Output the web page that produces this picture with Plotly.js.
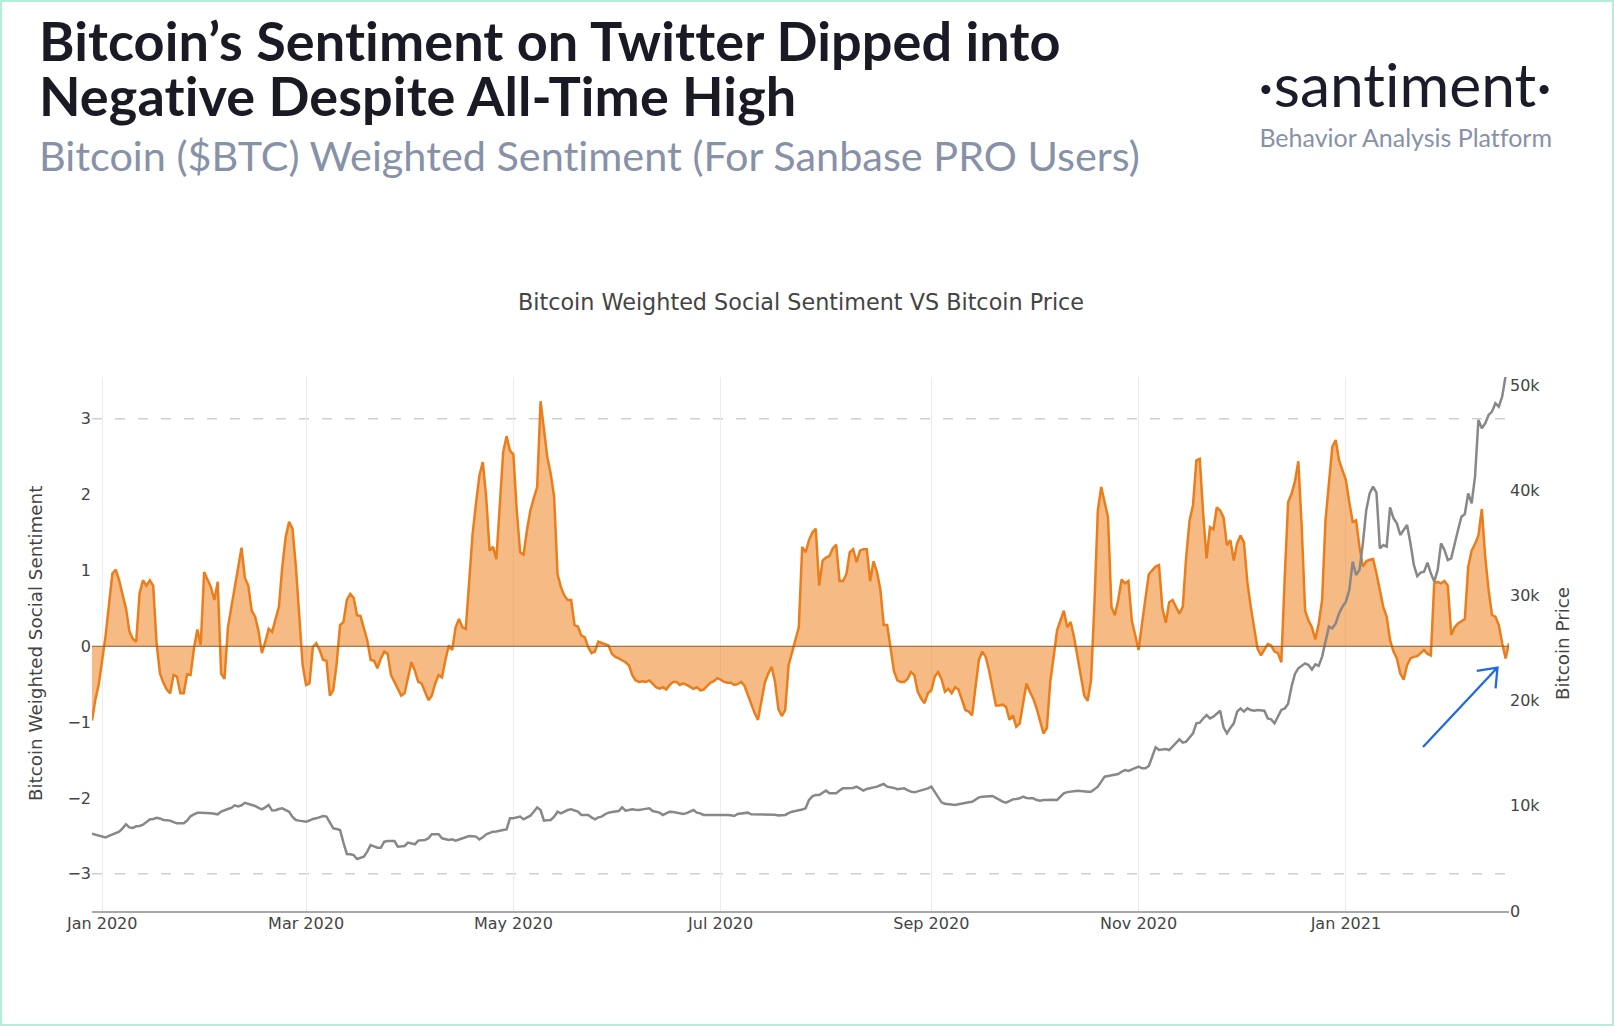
<!DOCTYPE html>
<html>
<head>
<meta charset="utf-8">
<script src="https://cdn.plot.ly/plotly-3.0.1.min.js"></script>
<style>
  html, body { margin: 0; padding: 0; background: #ffffff; }
  #wrap { position: relative; width: 1614px; height: 1026px; overflow: hidden; background: #fff; }
  #chart { position: absolute; left: 0; top: 0; width: 1614px; height: 1026px; }
  #head { position: absolute; left: 0; top: 0; pointer-events: none; font-variant-ligatures: none; font-feature-settings: "liga" 0, "clig" 0; }
  #maintitle { position: absolute; left: 39px; top: 12.6px; margin: 0; font-family: Lato, sans-serif; font-weight: 700;
               font-size: 54px; line-height: 55px; letter-spacing: 0.1px; color: #191a24; white-space: nowrap;
               font-variant-ligatures: none; font-feature-settings: "liga" 0, "clig" 0; }
  #frame { position: absolute; left: 0; top: 0; width: 1614px; height: 1026px; box-sizing: border-box;
           border: 2px solid #b3eedb; pointer-events: none; }
</style>
</head>
<body>
<div id="wrap">
  <div id="chart"></div>
  <div id="maintitle">Bitcoin’s Sentiment on Twitter Dipped into<br>Negative Despite All-Time High</div>
  <svg id="head" width="1614" height="200" xmlns="http://www.w3.org/2000/svg">
    <text x="39" y="171" font-family="Lato" font-weight="400" font-size="41.4" fill="#8791a8">Bitcoin ($BTC) Weighted Sentiment (For Sanbase PRO Users)</text>
    <text x="1552" y="107" text-anchor="end" font-family="Lato" font-weight="400" font-size="60.5" fill="#1b1c29">·santiment·</text>
    <text x="1552" y="147" text-anchor="end" font-family="Lato" font-weight="400" font-size="25" fill="#8791a8">Behavior Analysis Platform</text>
  </svg>
  <div id="frame"></div>
</div>
<script>
// ---------------- DATA ----------------
const startDate = '2019-12-29';   // first daily observation
const endDate = '2021-02-18';

// Bitcoin weighted social sentiment (daily, from 2019-12-29)
const sentiment = [
  -0.98,-0.70,-0.50,-0.20,0.14,0.55,0.96,1.01,0.87,0.68,
  0.50,0.20,0.10,0.06,0.70,0.87,0.80,0.87,0.80,0.04,
  -0.36,-0.48,-0.57,-0.62,-0.38,-0.40,-0.62,-0.62,-0.37,-0.38,
  -0.03,0.22,0.02,0.98,0.89,0.78,0.61,0.85,-0.36,-0.43,
  0.25,0.52,0.74,1.02,1.30,0.90,0.80,0.47,0.39,0.20,
  -0.09,0.06,0.23,0.19,0.34,0.52,1.05,1.44,1.64,1.55,
  1.05,0.43,-0.25,-0.51,-0.49,-0.01,0.04,-0.05,-0.18,-0.19,
  -0.65,-0.58,-0.23,0.28,0.32,0.61,0.69,0.64,0.41,0.40,
  0.23,0.08,-0.18,-0.19,-0.29,-0.16,-0.07,-0.10,-0.38,-0.47,
  -0.58,-0.65,-0.62,-0.40,-0.21,-0.32,-0.47,-0.49,-0.60,-0.71,
  -0.65,-0.49,-0.38,-0.41,-0.18,0.01,-0.05,0.25,0.36,0.25,
  0.23,0.91,1.48,1.88,2.25,2.43,1.97,1.26,1.31,1.15,
  1.84,2.56,2.77,2.58,2.53,1.79,1.24,1.21,1.53,1.79,
  1.95,2.10,3.23,2.89,2.49,2.27,1.97,0.95,0.78,0.67,
  0.61,0.61,0.28,0.26,0.14,0.12,-0.01,-0.09,-0.07,0.06,
  0.04,0.03,0.01,-0.10,-0.14,-0.16,-0.18,-0.21,-0.25,-0.38,
  -0.45,-0.47,-0.46,-0.47,-0.45,-0.49,-0.54,-0.56,-0.54,-0.57,
  -0.51,-0.47,-0.47,-0.51,-0.49,-0.51,-0.54,-0.56,-0.54,-0.58,
  -0.57,-0.52,-0.48,-0.46,-0.42,-0.44,-0.47,-0.48,-0.48,-0.51,
  -0.50,-0.47,-0.52,-0.64,-0.76,-0.88,-0.97,-0.70,-0.48,-0.36,
  -0.27,-0.47,-0.83,-0.92,-0.84,-0.25,-0.09,0.07,0.25,1.31,
  1.24,1.40,1.50,1.55,0.80,1.13,1.17,1.19,1.29,1.34,
  0.86,0.86,0.95,1.24,1.28,1.11,1.26,1.28,1.28,0.86,
  1.12,0.98,0.75,0.28,0.28,-0.02,-0.33,-0.45,-0.47,-0.47,
  -0.43,-0.34,-0.38,-0.60,-0.69,-0.75,-0.62,-0.58,-0.40,-0.34,
  -0.43,-0.60,-0.56,-0.62,-0.54,-0.57,-0.71,-0.84,-0.86,-0.91,
  -0.54,-0.18,-0.07,-0.14,-0.32,-0.54,-0.78,-0.78,-0.77,-0.80,
  -0.97,-0.91,-1.06,-1.02,-0.76,-0.49,-0.60,-0.69,-0.82,-1.00,
  -1.15,-1.08,-0.47,-0.14,0.21,0.34,0.47,0.25,0.32,0.12,
  -0.14,-0.38,-0.65,-0.72,-0.45,0.56,1.79,2.10,1.92,1.70,
  0.52,0.41,0.61,0.88,0.83,0.86,0.34,0.14,-0.05,0.30,
  0.62,0.95,1.00,1.05,1.07,0.50,0.31,0.58,0.61,0.51,
  0.43,0.52,1.18,1.66,1.86,2.45,2.47,1.75,1.16,1.57,
  1.54,1.83,1.79,1.70,1.33,1.40,1.13,1.36,1.46,1.37,
  0.85,0.52,0.23,-0.03,-0.12,-0.05,0.03,0.01,-0.07,-0.09,
  -0.21,0.91,1.90,2.01,2.17,2.44,1.57,0.47,0.34,0.25,
  0.09,0.30,0.61,1.66,2.19,2.63,2.72,2.45,2.32,2.19,
  1.90,1.64,1.66,1.31,1.05,1.12,1.14,1.15,0.96,0.72,
  0.52,0.39,0.08,-0.07,-0.16,-0.36,-0.44,-0.25,-0.16,-0.14,
  -0.13,-0.09,-0.05,-0.10,-0.12,0.83,0.85,0.83,0.86,0.80,
  0.15,0.25,0.30,0.33,0.36,1.05,1.26,1.35,1.46,1.81,
  1.18,0.74,0.41,0.39,0.28,0.04,-0.16,0.04
];

// Bitcoin price in USD (daily, from 2019-12-29)
const price = [
  7350,7280,7200,7100,7000,7150,7300,7400,7550,7860,
  8250,7950,7900,8050,8080,8200,8450,8700,8750,8850,
  8800,8650,8620,8590,8450,8330,8330,8350,8600,9000,
  9190,9330,9350,9350,9350,9300,9250,9190,9450,9600,
  9700,9800,10050,9950,10050,10280,10200,10100,9980,9800,
  9660,9850,10080,9550,9580,9700,9760,9600,9440,8950,
  8650,8590,8520,8490,8600,8750,8810,8900,9030,8970,
  8400,7860,7800,7700,6500,5420,5400,5320,4940,5050,
  5160,5640,6270,6150,6020,6020,6590,6650,6650,6650,
  6120,6150,6180,6500,6400,6340,6690,6690,6750,6910,
  7290,7290,7290,6910,6850,6750,6810,6690,6800,6910,
  7000,7130,7100,7070,6810,7000,7290,7400,7540,7560,
  7600,7700,7760,8810,8810,8900,8970,8710,8900,9060,
  9440,9850,9600,8590,8620,8650,8970,9440,9280,9450,
  9600,9660,9550,9440,9130,9130,9130,8900,8710,8900,
  8970,9200,9350,9400,9440,9500,9850,9540,9600,9660,
  9620,9600,9660,9700,9760,9500,9440,9350,9130,9300,
  9440,9400,9350,9300,9220,9300,9440,9600,9350,9280,
  9130,9130,9150,9170,9190,9170,9150,9130,9100,9030,
  9220,9250,9300,9350,9190,9190,9190,9190,9200,9200,
  9190,9150,9090,9100,9130,9300,9440,9500,9540,9650,
  9760,10550,10900,11030,11030,11250,11440,11190,11190,11190,
  11450,11660,11660,11660,11700,11820,11600,11440,11600,11660,
  11750,11820,11950,12070,11820,11780,11700,11570,11620,11660,
  11500,11350,11280,11380,11440,11520,11650,11820,11340,10800,
  10330,10200,10170,10100,10080,10150,10230,10280,10330,10390,
  10600,10800,10850,10870,10900,10930,10750,10550,10390,10300,
  10450,10610,10650,10710,10870,10750,10710,10710,10550,10490,
  10550,10580,10610,10580,10550,10900,11190,11300,11340,11400,
  11440,11400,11340,11340,11340,11550,11820,12300,12770,12830,
  12880,12950,13020,13240,13400,13310,13450,13560,13720,13560,
  13560,13780,14670,15560,15300,15350,15400,15300,15620,15940,
  16320,16000,16100,16500,16890,17840,17900,18300,18630,18310,
  18470,18750,19040,17460,16890,17400,17840,18950,19260,18950,
  19260,19100,19040,19110,19080,19040,18310,18220,17840,18500,
  19110,19250,19700,21320,22530,23070,23300,23540,23380,22950,
  23450,23300,24180,25760,27030,26870,27340,28300,28930,29400,
  30510,33210,31940,32410,34950,38120,39700,40340,39770,34470,
  34790,34630,38370,37330,36850,35740,36220,36690,34950,32890,
  31840,32160,32260,33110,32100,31310,32400,34950,34320,33370,
  33520,34950,36220,37480,37740,39700,38750,41290,46670,45880,
  46360,47150,47470,48260,47940,48900,50860
];

const sentimentTicks = [-3, -2, -1, 0, 1, 2, 3];
const priceTicks = [0, 10000, 20000, 30000, 40000, 50000];
const thresholds = [3, -3];

// ---------------- BUILD ----------------
function dailyDates(start, n) {
  const out = [];
  const t0 = Date.parse(start + 'T00:00:00Z');
  for (let i = 0; i < n; i++) out.push(new Date(t0 + i * 86400000).toISOString().slice(0, 10));
  return out;
}
const sDates = dailyDates(startDate, sentiment.length);
const pDates = dailyDates(startDate, price.length);

const W = 1614, H = 1026;
const M = { l: 92, r: 105, t: 377, b: 115 };
const PW = W - M.l - M.r, PH = H - M.t - M.b;
const px = x => (x - M.l) / PW;
const py = y => (H - M.b - y) / PH;

const FAM = 'DejaVu Sans, Verdana, sans-serif';
const tickFont = { family: FAM, size: 16, color: '#444' };

const traces = [
  {
    x: sDates, y: sentiment, type: 'scatter', mode: 'lines',
    line: { color: '#ea7e1c', width: 2.5 },
    fill: 'tozeroy', fillcolor: 'rgba(240,140,50,0.6)',
    name: 'Bitcoin Weighted Social Sentiment', hoverinfo: 'x+y'
  },
  {
    x: pDates, y: price, type: 'scatter', mode: 'lines', yaxis: 'y2',
    line: { color: '#888888', width: 2.5 },
    name: 'Bitcoin Price', hoverinfo: 'x+y'
  }
];

const shapes = thresholds.map(v => ({
  type: 'line', xref: 'paper', x0: 0, x1: 1, yref: 'y', y0: v, y1: v,
  line: { color: '#cfcfcf', width: 1.5, dash: '10px,13px' }, layer: 'below'
}));
shapes.push({
  type: 'line', xref: 'paper', x0: 0, x1: 1, yref: 'y', y0: 0, y1: 0,
  line: { color: '#8a5a32', width: 1 }, layer: 'above'
});

// blue annotation arrow (pixel geometry converted to paper coordinates)
const tail = [1423, 747], head = [1497.5, 667.5];
const ang = Math.atan2(tail[1] - head[1], tail[0] - head[0]);
const armLen = 21, spread = 0.66;
const a1 = [head[0] + armLen * Math.cos(ang + spread), head[1] + armLen * Math.sin(ang + spread)];
const a2 = [head[0] + armLen * Math.cos(ang - spread), head[1] + armLen * Math.sin(ang - spread)];
const P = p => px(p[0]).toFixed(5) + ',' + py(p[1]).toFixed(5);
shapes.push({
  type: 'path', xref: 'paper', yref: 'paper',
  path: 'M' + P(tail) + ' L' + P(head) + ' M' + P(a1) + ' L' + P(head) + ' L' + P(a2),
  line: { color: '#1f6ae0', width: 2.3 }, layer: 'above'
});

const layout = {
  width: W, height: H,
  margin: M,
  paper_bgcolor: '#ffffff', plot_bgcolor: '#ffffff',
  showlegend: false,
  title: {
    text: 'Bitcoin Weighted Social Sentiment VS Bitcoin Price',
    font: { family: FAM, size: 22.3, color: '#444' },
    x: px(801), xref: 'paper', xanchor: 'center',
    y: 1 - 302 / H, yref: 'container', yanchor: 'middle'
  },
  xaxis: {
    type: 'date', range: [startDate, endDate],
    tick0: '2020-01-01', dtick: 'M2', tickformat: '%b %Y',
    showgrid: true, gridcolor: '#ebebeb', gridwidth: 1,
    showline: true, linecolor: '#a8a8a8', linewidth: 1.5,
    zeroline: false, ticks: '', tickfont: tickFont,
    ticklabelstandoff: -3
  },
  yaxis: {
    range: [-3.49, 3.55], tickvals: sentimentTicks,
    showgrid: false, zeroline: false, showline: false, ticks: '',
    tickfont: tickFont
  },
  yaxis2: {
    overlaying: 'y', side: 'right', range: [0, 50760], tickvals: priceTicks,
    showgrid: false, zeroline: false, showline: false, ticks: '',
    tickfont: tickFont
  },
  shapes: shapes,
  annotations: [
    {
      text: 'Bitcoin Weighted Social Sentiment', textangle: -90,
      xref: 'paper', yref: 'paper', x: px(35), y: py(644),
      xanchor: 'center', yanchor: 'middle', showarrow: false,
      font: { family: FAM, size: 18.3, color: '#444' }
    },
    {
      text: 'Bitcoin Price', textangle: -90,
      xref: 'paper', yref: 'paper', x: px(1562), y: py(644),
      xanchor: 'center', yanchor: 'middle', showarrow: false,
      font: { family: FAM, size: 18.3, color: '#444' }
    }
  ]
};

Plotly.newPlot('chart', traces, layout, { displayModeBar: false, staticPlot: true });
</script>
</body>
</html>
